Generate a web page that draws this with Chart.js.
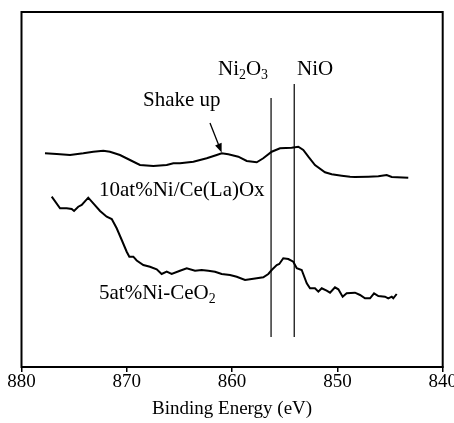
<!DOCTYPE html>
<html>
<head>
<meta charset="utf-8">
<script src="https://cdn.jsdelivr.net/npm/chart.js@4/dist/chart.umd.min.js"></script>
<style>
  body { margin: 0; background: #fff; }
  #wrap { width: 454px; height: 423px; }
</style>
</head>
<body>
<div id="wrap"><canvas id="xpsChart"></canvas></div>
<script>
// Ni 2p spectra, binding energy (eV) vs. intensity (a.u.)
var energy10 = [877.77, 876.66, 875.39, 874.13, 873.18, 872.23, 871.60, 870.65, 869.70, 868.75,
  867.48, 866.21, 865.58, 864.95, 863.68, 862.41, 861.46, 860.99, 860.36, 859.41,
  858.61, 857.66, 857.04, 856.24, 855.45, 854.34, 853.71, 853.24, 852.76, 852.13,
  851.18, 850.54, 849.59, 848.80, 848.33, 847.06, 846.11, 845.32, 844.84, 843.27]
var counts10 = [213.7, 213, 212, 213.7, 215.3, 216.3, 215.3, 212, 207, 202,
  201, 202, 203.7, 203.7, 205.3, 208.7, 212, 213.7, 212.7, 210.3,
  206, 204.7, 208.7, 215.3, 218.7, 219.3, 220.3, 217, 210.3, 202,
  194.7, 192.7, 191.3, 190.3, 190, 190.3, 190.7, 192, 190, 189.3]

var energy5 = [877.13, 876.34, 875.71, 875.23, 875.01, 874.61, 874.28, 873.66, 873.18, 872.54,
  871.91, 871.43, 870.96, 870.48, 870.01, 869.76, 869.38, 869.06, 868.43, 867.80,
  867.16, 866.69, 866.21, 865.74, 864.95, 864.31, 863.52, 862.89, 862.26, 861.62,
  860.99, 860.20, 859.56, 858.77, 858.30, 857.66, 857.04, 856.56, 856.24, 855.76,
  855.52, 855.14, 854.66, 854.19, 853.86, 853.39, 852.91, 852.60, 852.13, 851.81,
  851.49, 851.02, 850.70, 850.23, 849.91, 849.50, 849.12, 848.33, 847.85, 847.38,
  846.90, 846.52, 846.11, 845.48, 845.17, 844.84, 844.69, 844.37]
var counts5 = [170.3, 158.7, 158.7, 158, 156, 160.3, 162, 169.3, 163.7, 156,
  150.3, 148, 138.7, 127, 115.3, 110.3, 110.3, 106.5, 102, 100.3,
  97.7, 93, 95.3, 93, 96.3, 98.7, 96.3, 97, 96.3, 95.3,
  93, 92, 90.3, 87, 87.7, 88.7, 89.7, 93, 97, 102,
  103, 108.7, 108, 105.3, 98.7, 97, 83.7, 78.7, 78.7, 75.3,
  78.7, 76.3, 74.3, 79.7, 77.7, 70.3, 73.7, 74.3, 72, 68.7,
  68.7, 73.7, 71, 70.3, 68.7, 70.3, 68.7, 73]

// reference peak positions (Ni2O3, NiO)
var refEnergy = [856.3, 854.1]
var refTop = [269, 283]
var refBottom = 30

var serif = '"Liberation Serif", "Times New Roman", serif'

function toPoints(xs, ys){
  return xs.map((x, i) => ({x: x, y: ys[i]}))
}

// draws text made of [string, isSubscript] parts, left aligned on a baseline
function richText(ctx, parts, x, y, size){
  parts.forEach((p) => {
    var s = p[1] ? size * 0.66 : size
    ctx.font = s + 'px ' + serif
    ctx.fillText(p[0], x, p[1] ? y + size * 0.2 : y)
    x += ctx.measureText(p[0]).width
  })
}

var labelsPlugin = {
  id: 'labels',
  afterDatasetsDraw(chart){
    var ctx = chart.ctx
    var sx = chart.scales.x
    var sy = chart.scales.y
    var a = chart.chartArea
    ctx.save()

    // frame
    ctx.strokeStyle = '#000'
    ctx.lineWidth = 2
    ctx.strokeRect(a.left, a.top, a.right - a.left, a.bottom - a.top)

    ctx.fillStyle = '#000'
    ctx.textBaseline = 'alphabetic'
    ctx.textAlign = 'left'
    var px = (e) => sx.getPixelForValue(e)
    var py = (v) => sy.getPixelForValue(v)

    richText(ctx, [['Ni', 0], ['2', 1], ['O', 0], ['3', 1]], px(861.34), py(292), 21)
    richText(ctx, [['NiO', 0]], px(853.84), py(292), 21)
    richText(ctx, [['Shake up', 0]], px(868.46), py(261), 21)
    richText(ctx, [['10at%Ni/Ce(La)Ox', 0]], px(872.64), py(171), 21)
    richText(ctx, [['5at%Ni-CeO', 0], ['2', 1]], px(872.64), py(68), 21)

    // arrow to the shake-up satellite
    var x0 = px(862.10), y0 = py(244)
    var x1 = px(860.99), y1 = py(214.5)
    var ang = Math.atan2(y1 - y0, x1 - x0)
    ctx.lineWidth = 1.3
    ctx.beginPath()
    ctx.moveTo(x0, y0)
    ctx.lineTo(x1 - 6 * Math.cos(ang), y1 - 6 * Math.sin(ang))
    ctx.stroke()
    ctx.beginPath()
    ctx.moveTo(x1, y1)
    ctx.lineTo(x1 - 9 * Math.cos(ang) + 3.5 * Math.sin(ang), y1 - 9 * Math.sin(ang) - 3.5 * Math.cos(ang))
    ctx.lineTo(x1 - 9 * Math.cos(ang) - 3.5 * Math.sin(ang), y1 - 9 * Math.sin(ang) + 3.5 * Math.cos(ang))
    ctx.closePath()
    ctx.fill()

    ctx.restore()
  }
}

var refSets = refEnergy.map((e, i) => ({
  data: [{x: e, y: refBottom}, {x: e, y: refTop[i]}],
  borderColor: '#000',
  borderWidth: 1.2,
  pointRadius: 0
}))

var xpsChart = new Chart(document.getElementById('xpsChart'), {
  type: 'line',
  data: {
    datasets: [
      {
        label: '10at%Ni/Ce(La)Ox',
        data: toPoints(energy10, counts10),
        borderColor: '#000',
        borderWidth: 2,
        pointRadius: 0
      },
      {
        label: '5at%Ni-CeO2',
        data: toPoints(energy5, counts5),
        borderColor: '#000',
        borderWidth: 2,
        pointRadius: 0
      }
    ].concat(refSets)
  },
  options: {
    responsive: true,
    maintainAspectRatio: false,
    animation: false,
    layout: {
      padding: {left: 21.5, right: 11.3, top: 12, bottom: 0}
    },
    plugins: {
      legend: { display: false },
      tooltip: { enabled: false }
    },
    scales: {
      x: {
        type: 'linear',
        reverse: true,
        min: 840,
        max: 880,
        afterFit: function(scale){
          scale.height = 56
          scale.paddingLeft = 0
          scale.paddingRight = 0
        },
        ticks: {
          stepSize: 10,
          color: '#000',
          padding: -1,
          maxRotation: 0,
          font: { family: serif, size: 19 }
        },
        grid: {
          drawOnChartArea: false,
          drawTicks: true,
          tickLength: 5,
          color: '#000',
          lineWidth: 1.5
        },
        border: { display: true, color: '#000', width: 2 },
        title: {
          display: true,
          text: 'Binding Energy (eV)',
          color: '#000',
          padding: { top: 0, bottom: 3 },
          font: { family: serif, size: 19 }
        }
      },
      y: {
        display: false,
        min: 0,
        max: 355
      }
    }
  },
  plugins: [labelsPlugin]
});
</script>
</body>
</html>
